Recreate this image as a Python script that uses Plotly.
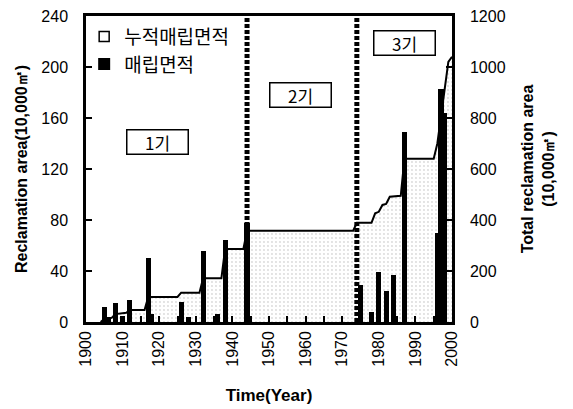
import plotly.graph_objects as go

# Annual reclamation area (10,000 m²)
bar_years = [1905, 1906, 1908, 1910, 1912, 1917, 1918, 1926, 1928, 1932, 1936, 1938,
             1944, 1975, 1978, 1980, 1982, 1984, 1987, 1996, 1997, 1998]
bar_area = [12, 4, 15, 5, 17, 50, 6, 16, 4, 56, 6, 64,
            78, 29, 8, 39, 24, 37, 149, 70, 183, 164]

# Cumulative reclamation area (10,000 m²), at years where it changes
cum_years = [1904, 1905, 1907, 1908, 1911, 1912, 1916, 1917, 1925, 1926, 1931, 1932,
             1937, 1938, 1943, 1944, 1973, 1974, 1978, 1979, 1980, 1981, 1982, 1983,
             1986, 1987, 1995, 1996, 1999, 2000]
cum_area = [0, 12, 16, 31, 36, 47, 47, 98, 98, 115, 115, 172,
            172, 286, 286, 358, 358, 389, 389, 426, 432, 459, 463, 491,
            495, 640, 640, 700, 1020, 1040]

# Period boundaries and labels
period_bounds = [1944, 1974]
period_names = ["1기", "2기", "3기"]
period_label_x = [1919.5, 1958.5, 1987]
period_label_y = [141, 178, 219]

tick_font = dict(family="Liberation Sans, Arial, sans-serif", size=16, color="black")
title_font = dict(family="Liberation Sans, Arial, sans-serif", size=16, color="black")
kr_font = dict(family="Noto Sans CJK KR, sans-serif", size=19, color="black")

fig = go.Figure()

# cumulative area (right axis), stippled fill
fig.add_trace(go.Scatter(
    x=cum_years, y=cum_area, mode="lines", yaxis="y",
    line=dict(color="black", width=2),
    fill="tozeroy", fillcolor="rgba(255,255,255,0)",
    fillpattern=dict(shape=".", fgcolor="#b4b4b4", bgcolor="white", size=4, solidity=0.18),
    showlegend=False, hoverinfo="skip",
))

# legend entry for the cumulative series
fig.add_trace(go.Scatter(
    x=[None], y=[None], mode="markers", yaxis="y",
    marker=dict(symbol="square", size=10, color="white", line=dict(color="black", width=1.5)),
    name="누적매립면적",
))

# annual bars (left axis)
fig.add_trace(go.Bar(
    x=bar_years, y=bar_area, yaxis="y2", width=1.4,
    marker=dict(color="black", line=dict(width=0)),
    name="매립면적",
))

# period boundaries
for yr in period_bounds:
    fig.add_shape(type="line", xref="x", yref="paper", x0=yr, x1=yr, y0=0, y1=1,
                  line=dict(color="black", width=5, dash="4px,2px"), layer="above")

for name, px, py in zip(period_names, period_label_x, period_label_y):
    fig.add_annotation(x=px, y=py, xref="x", yref="y2", text=name, showarrow=False,
                       font=dict(family="Noto Sans CJK KR, sans-serif", size=17, color="black"),
                       bordercolor="black", borderwidth=1.5, bgcolor="white",
                       width=58, height=21)

axis_common = dict(showline=True, linecolor="black", linewidth=2.5, showgrid=False,
                   zeroline=False, ticks="inside", ticklen=6, tickwidth=2,
                   tickcolor="black", tickfont=tick_font, automargin=False)

fig.update_layout(
    width=573, height=409,
    margin=dict(l=86, r=121, t=16, b=87),
    plot_bgcolor="white", paper_bgcolor="white",
    bargap=0,
    xaxis=dict(axis_common, range=[1900, 2000], tick0=1900, dtick=10, mirror=True,
               tickangle=-90,
               tickfont=dict(family="Liberation Sans Narrow, Liberation Sans, Arial, sans-serif",
                             size=16, color="black"),
               minor=dict(dtick=5, ticks="inside", ticklen=6, tickwidth=2, tickcolor="black"),
               title=dict(text="<b>Time(Year)</b>", font=dict(title_font, size=17), standoff=24)),
    yaxis=dict(axis_common, range=[0, 1200], dtick=200, side="right", mirror=True,
               ticklabelstandoff=12,
               title=dict(text="<b>Total reclamation area<br>(10,000㎡)</b>", font=title_font,
                          standoff=18)),
    yaxis2=dict(axis_common, range=[0, 240], dtick=40, side="left", overlaying="y",
                ticklabelstandoff=12,
                title=dict(text="<b>Reclamation area(10,000㎡)</b>", font=title_font,
                           standoff=10)),
    legend=dict(x=-0.005, y=0.995, xanchor="left", yanchor="top",
                bgcolor="rgba(255,255,255,0)", font=kr_font, traceorder="normal",
                tracegroupgap=0),
)

fig.write_html("out.html")
